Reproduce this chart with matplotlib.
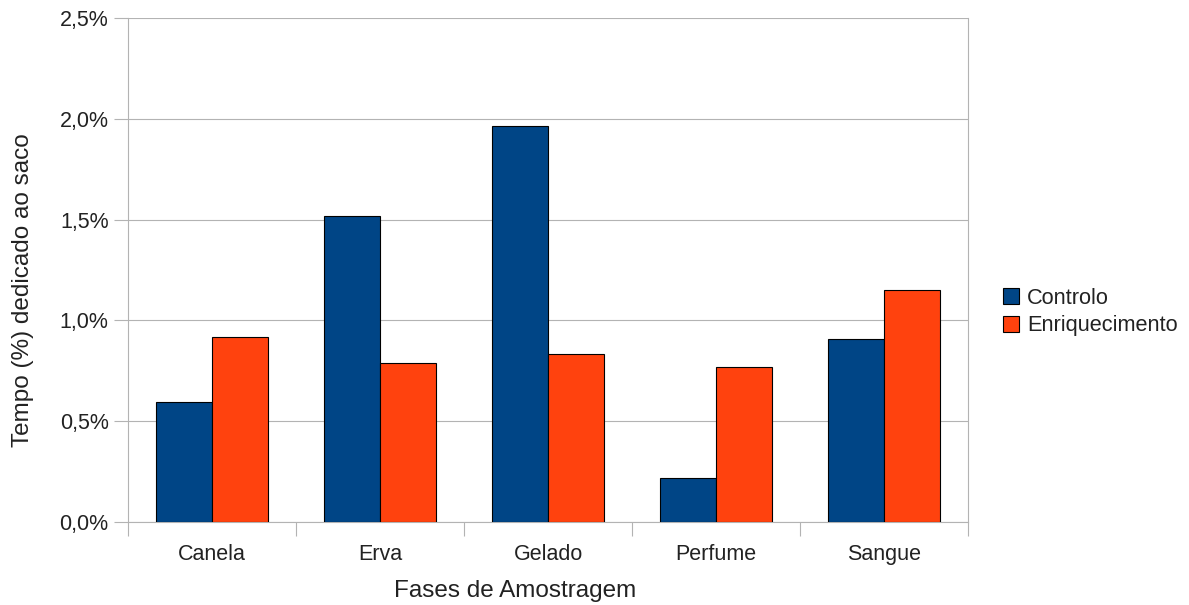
import matplotlib.pyplot as plt
import numpy as np
from matplotlib.ticker import FuncFormatter, FixedLocator

# Dados: percentagem de tempo dedicado ao saco por fase
fases = ["Canela", "Erva", "Gelado", "Perfume", "Sangue"]
controlo = [0.595, 1.518, 1.964, 0.218, 0.908]
enriquecimento = [0.918, 0.789, 0.833, 0.769, 1.151]

cor_controlo = "#004586"
cor_enriq = "#ff420e"
cor_texto = "#222222"
cor_grelha = "#b3b3b3"

plt.rcParams['font.family'] = ['Liberation Sans', 'DejaVu Sans']

W, H = 1189, 605
fig = plt.figure(figsize=(W / 100, H / 100), dpi=100)
ax = fig.add_axes([0.1077, 0.1372, 0.7064, 0.8330])

x = np.arange(len(fases))
largura = 1 / 3
ax.bar(x - largura / 2, controlo, largura, color=cor_controlo,
       edgecolor="black", linewidth=0.8, label="Controlo", zorder=3)
ax.bar(x + largura / 2, enriquecimento, largura, color=cor_enriq,
       edgecolor="black", linewidth=0.8, label="Enriquecimento", zorder=3)

ax.set_xlim(-0.5, len(fases) - 0.5)
ax.set_ylim(0, 2.5)
ax.set_yticks(np.arange(0, 2.51, 0.5))
ax.yaxis.set_major_formatter(FuncFormatter(lambda v, p: f"{v:.1f}%".replace(".", ",")))
ax.grid(axis="y", color=cor_grelha, linewidth=0.8, zorder=0)

# ticks nas fronteiras das categorias, rótulos no centro
ax.xaxis.set_major_locator(FixedLocator(np.arange(-0.5, len(fases), 1)))
ax.xaxis.set_major_formatter(plt.NullFormatter())
ax.set_xticks(x, minor=True)
ax.set_xticklabels(fases, minor=True)
ax.tick_params(axis="x", which="minor", length=0, pad=16, labelsize=15.5, colors=cor_texto)
ax.tick_params(axis="x", which="major", length=10, color=cor_grelha, width=0.8)
ax.tick_params(axis="y", length=10, color=cor_grelha, width=0.8, labelsize=15.5,
               labelcolor=cor_texto, pad=4)

for lado in ["left", "right", "bottom"]:
    ax.spines[lado].set_color(cor_grelha)
    ax.spines[lado].set_linewidth(0.8)
ax.spines["top"].set_visible(False)

# títulos dos eixos centrados na área do gráfico (incluindo a legenda)
fig.text(515 / W, 1 - 591 / H, "Fases de Amostragem", fontsize=17.5,
         color=cor_texto, ha="center", va="center")
fig.text(23 / W, 1 - 290 / H, "Tempo (%) dedicado ao saco", fontsize=17.5,
         color=cor_texto, ha="center", va="center", rotation=90)

fig.legend(loc="center left", bbox_to_anchor=(1003 / W, 1 - 312 / H), frameon=False,
           fontsize=15.7, handlelength=0.75, handleheight=0.75, handletextpad=0.35,
           labelspacing=0.3, labelcolor=cor_texto, borderpad=0, borderaxespad=0)

fig.savefig("out.png", dpi=100)
